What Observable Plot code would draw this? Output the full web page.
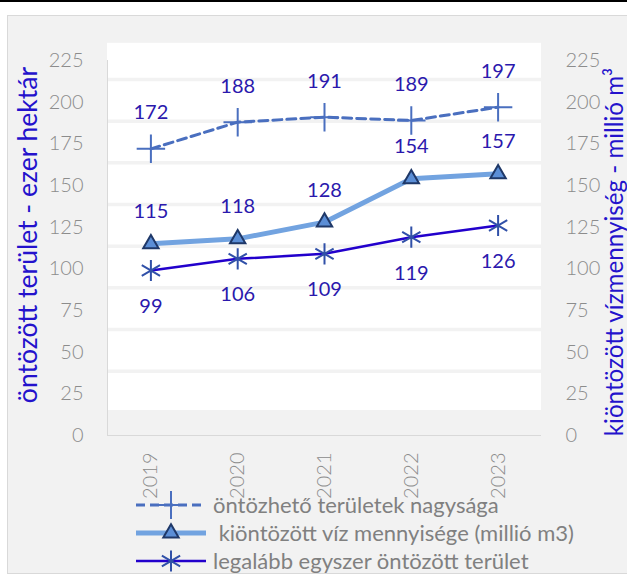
<!DOCTYPE html>
<html><head><meta charset="utf-8">
<script src="https://cdn.jsdelivr.net/npm/d3@7"></script>
<script src="https://cdn.jsdelivr.net/npm/@observablehq/plot@0.6"></script>
<style>
body{margin:0;background:#fff;}
#wrap{position:relative;width:627px;height:575px;overflow:hidden;font-family:Lato,sans-serif;}
#topline{position:absolute;left:0;top:0;width:627px;height:2px;background:#000;}
#box{position:absolute;left:7px;top:15px;width:640px;height:557px;background:#f2f2f2;border:1px solid #d9d9d9;}
#chart{position:absolute;left:0;top:0;}
#legend{position:absolute;left:136px;top:491px;}
.row{display:flex;align-items:center;height:28px;}
.row svg{display:block;}
.row span{margin-left:7px;font-size:22px;color:#808080;white-space:pre;line-height:28px;}
.title{position:absolute;white-space:nowrap;transform:translate(-50%,-50%) rotate(-90deg);line-height:1;}
</style></head><body>
<div id="wrap"><div id="topline"></div><div id="box"></div><div id="chart"></div><div id="legend"></div>
<div id="lt" class="title"></div><div id="rt" class="title"></div></div>
<script>
const years = ["2019", "2020", "2021", "2022", "2023"];
const irrigable = [172, 188, 191, 189, 197];
const water = [115, 118, 128, 154, 157];
const irrigated = [99, 106, 109, 119, 126];
const seriesNames = ["öntözhető területek nagysága", " kiöntözött víz mennyisége (millió m3)", "legalább egyszer öntözött terület"];
const yTicks = [0, 25, 50, 75, 100, 125, 150, 175, 200, 225];
const leftTitle = "öntözött terület - ezer hektár";
const rightTitle = "kiöntözött vízmennyiség - millió m³";
const whiteArea = [{y1: 15, y2: 235.3}];
const bandLines = [213.6, 188.6, 163.6, 138.6, 113.6, 88.6, 63.6, 38.6];

const rows = years.map((y, i) => ({i, year: y, a: irrigable[i], b: water[i], c: irrigated[i]}));

const labelColor = "#2b19ad";
const titleColor = "#2412cc";
const tickColor = "#8c8c8c";
const c1 = "#4a6fbf", c2 = "#72a3e0", c2fill = "#5b8ed6", c2stroke = "#1f3868", c3 = "#2200cc", c3m = "#3050a8";

const chart = Plot.plot({
  width: 627, height: 575,
  marginLeft: 107, marginRight: 86, marginTop: 60, marginBottom: 140,
  style: {background: "transparent", fontFamily: "Lato, sans-serif", overflow: "visible"},
  x: {domain: [-0.5, 4.5]},
  y: {domain: [0, 225]},
  marks: [
    Plot.rect(whiteArea, {x1: -0.5, x2: 4.5, y1: "y1", y2: "y2", fill: "white"}),
    Plot.ruleY(bandLines, {stroke: "#f2f2f2", strokeWidth: 3.5}),
    Plot.ruleX([-0.5], {y1: 0, y2: 225, stroke: "#d9d9d9"}),
    Plot.ruleY([0], {stroke: "#d9d9d9"}),
    Plot.axisY({ticks: yTicks, tickSize: 0, tickPadding: 24, fontSize: 20, fontWeight: 300, color: tickColor, label: null}),
    Plot.axisY({anchor: "right", ticks: yTicks, tickSize: 0, tickPadding: 24, fontSize: 20, fontWeight: 300, color: tickColor, label: null}),
    Plot.axisX({ticks: [0, 1, 2, 3, 4], tickFormat: i => years[i], tickRotate: -90, tickSize: 0, tickPadding: 17, fontSize: 20, fontWeight: 300, color: tickColor, label: null}),
    Plot.line(rows, {x: "i", y: "a", stroke: c1, strokeWidth: 3, strokeDasharray: "9,5"}),
    Plot.line(rows, {x: "i", y: "b", stroke: c2, strokeWidth: 5}),
    Plot.line(rows, {x: "i", y: "c", stroke: c3, strokeWidth: 2.5}),
    Plot.dot(rows, {x: "i", y: "a", symbol: "plus", r: 9.2, stroke: c1, strokeWidth: 2}),
    Plot.dot(rows, {x: "i", y: "b", symbol: "triangle", r: 5.7, fill: c2fill, stroke: c2stroke, strokeWidth: 2}),
    Plot.dot(rows, {x: "i", y: "c", symbol: "asterisk", r: 10, stroke: c3m, strokeWidth: 2}),
    Plot.text(rows, {x: "i", y: "a", text: d => String(d.a), dy: -36, fill: labelColor, fontSize: 20}),
    Plot.text(rows, {x: "i", y: "b", text: d => String(d.b), dy: -32, fill: labelColor, fontSize: 20}),
    Plot.text(rows, {x: "i", y: "c", text: d => String(d.c), dy: 36, fill: labelColor, fontSize: 20})
  ]
});
document.getElementById("chart").appendChild(chart);

// axis titles, sized to the reference text length
const ctx = document.createElement("canvas").getContext("2d");
function fitSize(text, target) {
  ctx.font = "20px Lato";
  return 20 * target / ctx.measureText(text).width;
}
function placeTitle(id, text, cx, cy, len) {
  const el = document.getElementById(id);
  el.textContent = text;
  el.style.left = cx + "px";
  el.style.top = cy + "px";
  el.style.color = titleColor;
  el.style.fontSize = fitSize(text, len).toFixed(2) + "px";
}
placeTitle("lt", leftTitle, 27, 235, 337);
placeTitle("rt", rightTitle, 614, 252, 369);

// legend
const legendSpecs = [
  {name: seriesNames[0], stroke: c1, width: 3, dash: "9,5", symbol: d3.symbolPlus, r: 9.2, mfill: "none", mstroke: c1},
  {name: seriesNames[1], stroke: c2, width: 5, dash: null, symbol: d3.symbolTriangle, r: 5.7, mfill: c2fill, mstroke: c2stroke},
  {name: seriesNames[2], stroke: c3, width: 2.5, dash: null, symbol: d3.symbolAsterisk, r: 10, mfill: "none", mstroke: c3m}
];
const legend = d3.select("#legend");
legendSpecs.forEach(s => {
  const row = legend.append("div").attr("class", "row");
  const svg = row.append("svg").attr("width", 70).attr("height", 28);
  svg.append("line").attr("x1", 0).attr("x2", 70).attr("y1", 14).attr("y2", 14)
    .attr("stroke", s.stroke).attr("stroke-width", s.width).attr("stroke-dasharray", s.dash);
  svg.append("path").attr("d", d3.symbol(s.symbol, Math.PI * s.r * s.r)())
    .attr("transform", "translate(35,14)").attr("fill", s.mfill).attr("stroke", s.mstroke).attr("stroke-width", 2);
  row.append("span").text(s.name);
});
</script>
</body></html>
